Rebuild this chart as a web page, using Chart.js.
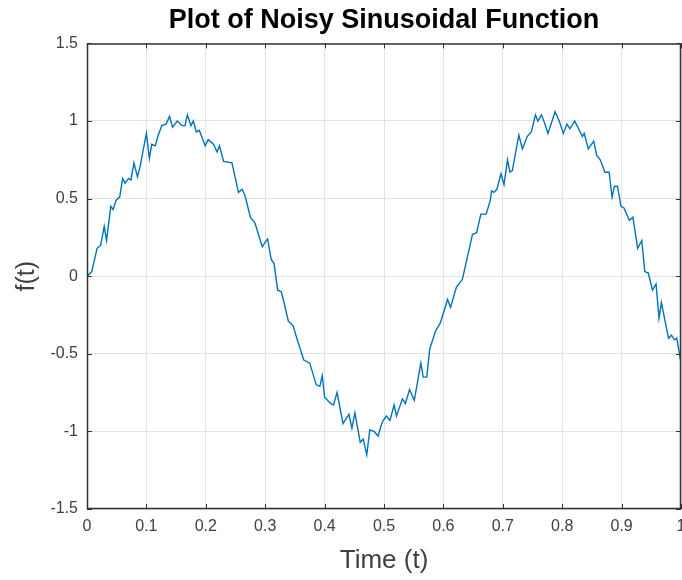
<!DOCTYPE html>
<html>
<head>
<meta charset="utf-8">
<script src="https://cdn.jsdelivr.net/npm/chart.js@4.4.1/dist/chart.umd.min.js"></script>
<style>
  body { margin: 0; background: #fff; }
  #wrap { width: 682px; height: 580px; }
</style>
</head>
<body>
<div id="wrap"><canvas id="myChart" width="682" height="580"></canvas></div>
<script>
// DATOS
const times = [
  0.000, 0.008, 0.017, 0.023, 0.029, 0.033, 0.040, 0.044, 0.049, 0.055,
  0.060, 0.064, 0.070, 0.074, 0.079, 0.085, 0.089, 0.100, 0.105, 0.109,
  0.115, 0.120, 0.126, 0.133, 0.139, 0.144, 0.152, 0.160, 0.165, 0.169,
  0.175, 0.179, 0.184, 0.189, 0.199, 0.204, 0.213, 0.219, 0.223, 0.230,
  0.244, 0.255, 0.261, 0.266, 0.275, 0.283, 0.295, 0.304, 0.310, 0.315,
  0.321, 0.327, 0.331, 0.339, 0.347, 0.354, 0.365, 0.375, 0.386, 0.392,
  0.396, 0.400, 0.410, 0.415, 0.421, 0.431, 0.441, 0.446, 0.451, 0.460,
  0.465, 0.471, 0.476, 0.483, 0.490, 0.497, 0.504, 0.510, 0.517, 0.521,
  0.531, 0.536, 0.543, 0.551, 0.562, 0.566, 0.572, 0.577, 0.587, 0.595,
  0.607, 0.612, 0.622, 0.632, 0.639, 0.649, 0.656, 0.663, 0.672, 0.679,
  0.681, 0.685, 0.690, 0.697, 0.702, 0.708, 0.712, 0.716, 0.727, 0.733,
  0.741, 0.748, 0.755, 0.759, 0.765, 0.770, 0.776, 0.788, 0.795, 0.802,
  0.808, 0.813, 0.821, 0.834, 0.837, 0.844, 0.853, 0.858, 0.864, 0.872,
  0.879, 0.884, 0.888, 0.893, 0.899, 0.904, 0.913, 0.919, 0.927, 0.934,
  0.939, 0.945, 0.952, 0.958, 0.963, 0.967, 0.979, 0.984, 0.989, 0.993,
  1.000
];
const values = [
  0.00, 0.03, 0.18, 0.20, 0.32, 0.23, 0.45, 0.43, 0.49, 0.51,
  0.63, 0.60, 0.63, 0.62, 0.73, 0.64, 0.70, 0.92, 0.76, 0.85,
  0.84, 0.91, 0.97, 0.98, 1.03, 0.96, 1.00, 0.97, 0.97, 1.04,
  0.97, 1.00, 0.93, 0.94, 0.84, 0.88, 0.85, 0.80, 0.84, 0.74,
  0.73, 0.54, 0.56, 0.52, 0.38, 0.34, 0.19, 0.24, 0.11, 0.08,
  -0.09, -0.10, -0.16, -0.29, -0.32, -0.41, -0.54, -0.56, -0.70, -0.71,
  -0.64, -0.78, -0.82, -0.83, -0.75, -0.95, -0.89, -0.98, -0.88, -1.07,
  -1.05, -1.15, -0.99, -1.00, -1.03, -0.94, -0.90, -0.93, -0.83, -0.90,
  -0.79, -0.82, -0.73, -0.80, -0.56, -0.65, -0.65, -0.47, -0.35, -0.30,
  -0.15, -0.20, -0.07, -0.02, 0.10, 0.27, 0.28, 0.40, 0.40, 0.49,
  0.55, 0.54, 0.56, 0.66, 0.59, 0.75, 0.67, 0.68, 0.91, 0.82,
  0.90, 0.93, 1.04, 1.00, 1.04, 0.99, 0.92, 1.06, 1.00, 0.92,
  0.98, 0.95, 1.00, 0.90, 0.92, 0.82, 0.87, 0.78, 0.75, 0.67,
  0.67, 0.51, 0.58, 0.58, 0.45, 0.44, 0.36, 0.38, 0.18, 0.23,
  0.03, 0.02, -0.09, -0.05, -0.27, -0.17, -0.40, -0.38, -0.41, -0.40,
  -0.56
];
const xTicks = [0, 0.1, 0.2, 0.3, 0.4, 0.5, 0.6, 0.7, 0.8, 0.9, 1];
const yTicks = [-1.5, -1, -0.5, 0, 0.5, 1, 1.5];

const axisColor = "#333333";
const labelColor = "#404040";
const gridColor = "#e3e3e3";
const fontFam = "'Liberation Sans', Arial, sans-serif";

// caja y marcas interiores estilo matlab
const boxTicks = {
  id: "boxTicks",
  afterDraw(chart) {
    const ctx = chart.ctx;
    const a = chart.chartArea;
    const sx = chart.scales.x;
    const sy = chart.scales.y;
    const len = 5;
    ctx.save();
    ctx.strokeStyle = axisColor;
    ctx.lineWidth = 1.5;
    ctx.beginPath();
    ctx.rect(a.left + 0.5, a.top + 0.5, a.right - a.left - 1, a.bottom - a.top - 1);
    ctx.stroke();
    ctx.lineWidth = 1;
    ctx.beginPath();
    xTicks.forEach((t) => {
      const px = Math.round(sx.getPixelForValue(t)) + 0.5;
      ctx.moveTo(px, a.bottom);
      ctx.lineTo(px, a.bottom - len);
      ctx.moveTo(px, a.top);
      ctx.lineTo(px, a.top + len);
    });
    yTicks.forEach((v) => {
      const py = Math.round(sy.getPixelForValue(v)) + 0.5;
      ctx.moveTo(a.left, py);
      ctx.lineTo(a.left + len, py);
      ctx.moveTo(a.right, py);
      ctx.lineTo(a.right - len, py);
    });
    ctx.stroke();
    ctx.restore();
  },
};

const ctx = document.getElementById("myChart");
new Chart(ctx, {
  type: "line",
  data: {
    datasets: [
      {
        data: times.map((t, i) => ({ x: t, y: values[i] })),
        borderColor: "#0072BD",
        borderWidth: 1.4,
        pointRadius: 0,
        tension: 0,
        fill: false,
      },
    ],
  },
  options: {
    responsive: false,
    animation: false,
    layout: {
      padding: { left: 0, right: 1, top: 0, bottom: 0 },
    },
    plugins: {
      legend: { display: false },
      tooltip: { enabled: false },
      title: {
        display: true,
        text: "Plot of Noisy Sinusoidal Function",
        fullSize: false,
        color: "#000",
        font: { family: fontFam, size: 27, weight: "bold" },
        padding: { top: 4, bottom: 7 },
      },
    },
    scales: {
      x: {
        type: "linear",
        min: 0,
        max: 1,
        afterBuildTicks: (scale) => {
          scale.ticks = xTicks.map((v) => ({ value: v }));
        },
        afterFit: (scale) => {
          scale.height = 71;
          scale.paddingLeft = 0;
          scale.paddingRight = 0;
        },
        ticks: {
          color: labelColor,
          padding: 8,
          maxRotation: 0,
          font: { family: fontFam, size: 16 },
          callback: (v) => String(Math.round(v * 10) / 10),
        },
        grid: { color: gridColor, drawTicks: false },
        border: { display: false },
        title: {
          display: true,
          text: "Time (t)",
          color: labelColor,
          font: { family: fontFam, size: 26 },
          padding: { top: 0, bottom: 4 },
        },
      },
      y: {
        type: "linear",
        min: -1.5,
        max: 1.5,
        afterBuildTicks: (scale) => {
          scale.ticks = yTicks.map((v) => ({ value: v }));
        },
        afterFit: (scale) => {
          scale.width = 87;
        },
        ticks: {
          color: labelColor,
          padding: 9,
          font: { family: fontFam, size: 16 },
          callback: (v) => String(Math.round(v * 10) / 10),
        },
        grid: { color: gridColor, drawTicks: false },
        border: { display: false },
        title: {
          display: true,
          text: "f(t)",
          color: labelColor,
          font: { family: fontFam, size: 25 },
          padding: { top: 12, bottom: 0 },
        },
      },
    },
  },
  plugins: [boxTicks],
});
</script>
</body>
</html>
